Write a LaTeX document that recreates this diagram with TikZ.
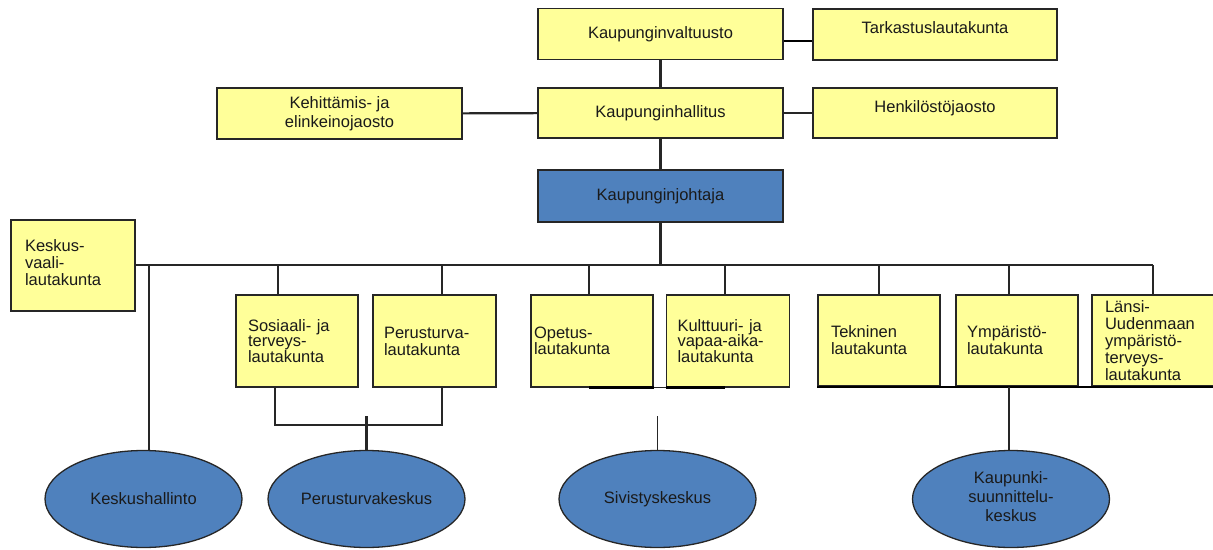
\documentclass[tikz,border=0pt]{standalone}
\usepackage{fontspec}
\setmainfont{Liberation Sans}
\usetikzlibrary{shapes.geometric}
\definecolor{boxyellow}{HTML}{FFFF99}
\definecolor{boxblue}{HTML}{4F81BD}
\definecolor{linec}{HTML}{262626}
\definecolor{txt}{HTML}{1A1A1A}
\begin{document}
\begin{tikzpicture}[x=1pt,y=-1pt,
  every node/.style={font=\fontsize{16.5}{17}\selectfont, text=txt},
  ybox/.style={draw=linec, fill=boxyellow, line width=1.4pt, inner sep=0pt, align=center, minimum width=245pt, minimum height=51pt},
  lbox/.style={draw=linec, fill=boxyellow, line width=1.4pt, inner ysep=0pt, inner xsep=12pt, align=left, minimum height=92pt},
  oval/.style={ellipse, draw=linec, fill=boxblue, line width=1.3pt, inner sep=0pt, minimum width=197pt, minimum height=97pt, align=center},
  conn/.style={draw=linec, line width=2.1pt},
  heavy/.style={draw=black, line width=2.8pt}
]
\useasboundingbox (0,0) rectangle (1213,549);

% top level
\node[ybox] (valt) at (660.5,34) {Kaupunginvaltuusto};
\node[ybox, minimum width=244pt, text height=12pt, text depth=14pt] (tark) at (935,34.5) {Tarkastuslautakunta};
\node[ybox, minimum height=50pt] (hall) at (660.5,113) {Kaupunginhallitus};
\node[ybox, minimum width=244pt, minimum height=50pt, text height=12pt, text depth=14pt] (henk) at (935,113) {Henkilöstöjaosto};
\node[ybox, font=\fontsize{16.5}{19}\selectfont] (keh) at (339.5,113.5) {Kehittämis- ja\\elinkeinojaosto};
\node[ybox, fill=boxblue, minimum height=52pt] (joht) at (660.5,196) {Kaupunginjohtaja};

% boards
\node[lbox, inner xsep=14pt, text width=96pt, minimum height=91pt] (kesk) at (73,265.5) {\raisebox{-4pt}{\begin{tabular}{@{}l@{}}Keskus-\\vaali-\\lautakunta\end{tabular}}};
\node[lbox, text width=98pt, font=\fontsize{16.5}{14}\selectfont] (sos) at (297,341) {Sosiaali- ja\\terveys-\\lautakunta};
\node[lbox, inner xsep=11pt, text width=101pt] (per) at (434.5,341) {Perusturva-\\lautakunta};
\node[lbox, inner xsep=3pt, text width=116pt, font=\fontsize{16.5}{16}\selectfont] (ope) at (592,341) {Opetus-\\lautakunta};
\node[lbox, inner xsep=11pt, text width=101pt, font=\fontsize{16.5}{15.5}\selectfont] (kul) at (728,341) {Kulttuuri- ja\\vapaa-aika-\\lautakunta};
\node[lbox, inner xsep=13pt, text width=96pt, minimum height=91pt] (tek) at (879,340.5) {Tekninen\\lautakunta};
\node[lbox, inner xsep=11pt, text width=100pt, minimum height=91pt] (ymp) at (1017,340.5) {Ympäristö-\\lautakunta};
\node[lbox, inner xsep=13pt, text width=97pt, minimum height=91pt] (lan) at (1153.5,340.5) {Länsi-\\Uudenmaan\\ympäristö-\\terveys-\\lautakunta};

% centres
\node[oval] (kh) at (143.5,499) {Keskushallinto};
\node[oval] (pk) at (366.5,499) {Perusturvakeskus};
\node[oval] (sk) at (657.5,499) {Sivistyskeskus};
\node[oval, font=\fontsize{16.5}{19}\selectfont] (ksk) at (1011,499) {\raisebox{-7pt}{\begin{tabular}{@{}c@{}}Kaupunki-\\suunnittelu-\\keskus\end{tabular}}};

% upper connectors
\draw[heavy] ([yshift=-7pt]valt.east) -- ([yshift=-7pt]valt.east -| tark.west);
\draw[conn] (valt) -- (hall);
\draw[conn] (hall) -- (joht);
\draw[conn] (keh) -- (hall);
\draw[conn] (hall) -- (henk);

% bus
\coordinate (bus) at (660.5,265);
\coordinate (busR) at (1153,265);
\draw[conn] (joht) -- (bus);
\draw[conn] (kesk.east |- bus) -- (busR);

\coordinate (ckh) at (149,265);
\coordinate (csos) at (278,265);
\coordinate (cper) at (442,265);
\coordinate (cope) at (589,265);
\coordinate (ckul) at (725,265);
\coordinate (ctek) at (879,265);
\coordinate (cymp) at (1009,265);
\draw[conn] (ckh) -- (ckh |- kh.north);
\draw[conn] (csos) -- (csos |- sos.north);
\draw[conn] (cper) -- (cper |- per.north);
\draw[conn] (cope) -- (cope |- ope.north);
\draw[conn] (ckul) -- (ckul |- kul.north);
\draw[conn] (ctek) -- (ctek |- tek.north);
\draw[conn] (cymp) -- (cymp |- ymp.north);
\draw[conn] (busR) -- (busR |- lan.north);

% Perusturvakeskus join
\coordinate (j1) at (275,425);
\coordinate (j2) at (442,425);
\coordinate (j3) at (366.5,416);
\draw[conn] (j1 |- sos.south) -- (j1) -- (j2) -- (j2 |- per.south);
\draw[conn] (j3) -- (j3 |- pk.north);

% Sivistyskeskus
\coordinate (j4) at (657.5,416);
\draw[conn, line width=1.6pt] (j4) -- (j4 |- sk.north);
\draw[heavy] (cope |- ope.south) -- (ope.south east);
\draw[conn, line width=1.2pt] (ope.south east) -- (kul.south west);
\draw[heavy] (kul.south west) -- (ckul |- kul.south);

% Kaupunkisuunnittelukeskus
\draw[heavy, line width=2.2pt] (tek.south west) -- (lan.south east);
\draw[conn] (cymp |- ymp.south) -- (cymp |- ksk.north);
\end{tikzpicture}
\end{document}
